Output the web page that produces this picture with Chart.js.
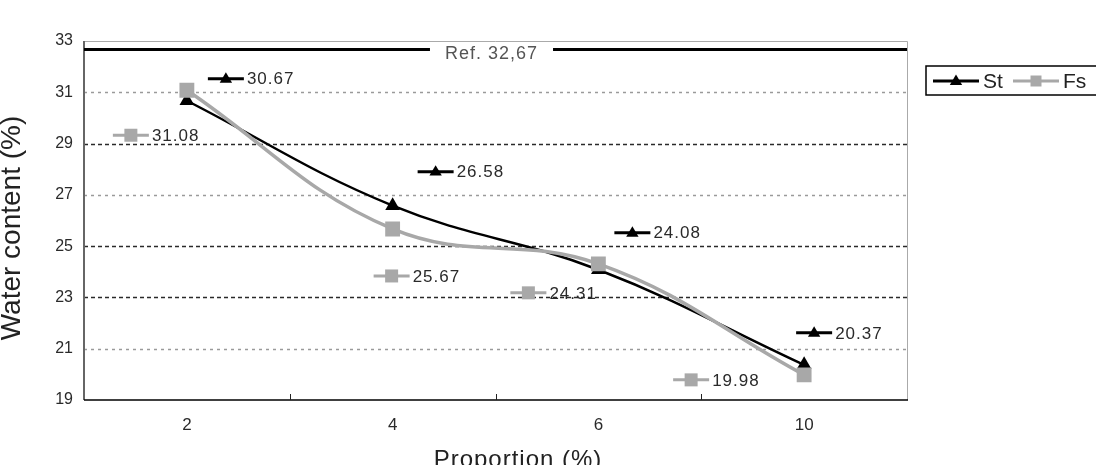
<!DOCTYPE html>
<html>
<head>
<meta charset="utf-8">
<title>Water content</title>
<script src="https://cdn.jsdelivr.net/npm/chart.js@4/dist/chart.umd.min.js"></script>
<style>
    html, body { margin: 0; padding: 0; background: #fff; }
    #wrap { width: 1096px; height: 465px; }
</style>
</head>
<body>
<div id="wrap"><canvas id="waterChart" width="1096" height="465"></canvas></div>
<script>
// Chart data
const categories = ['2', '4', '6', '10'];
const stValues = [30.67, 26.58, 24.08, 20.37];
const fsValues = [31.08, 25.67, 24.31, 19.98];
const yTicks = [19, 21, 23, 25, 27, 29, 31, 33];
const refValue = 32.67;
const refText = 'Ref. 32,67';
const seriesNames = ['St', 'Fs'];

// Callout offsets from each point (px) and grid line styling
const stLabelOffsets = [[39, -22], [43, -34], [34, -37], [10, -32]];
const fsLabelOffsets = [[-56, 45], [-1, 47], [-70, 29], [-113, 5]];
const darkGridTicks = [23, 25, 29];

const FONT = "'Liberation Sans', Arial, sans-serif";
const ST_COLOR = '#000000';
const FS_COLOR = '#a8a8a8';

function drawMarker(ctx, style, x, y, r, color) {
    ctx.save();
    ctx.fillStyle = color;
    ctx.beginPath();
    if (style === 'triangle') {
        ctx.moveTo(x, y - r);
        ctx.lineTo(x + r * 0.95, y + r * 0.6);
        ctx.lineTo(x - r * 0.95, y + r * 0.6);
    } else {
        ctx.rect(x - r, y - r, 2 * r, 2 * r);
    }
    ctx.closePath();
    ctx.fill();
    ctx.restore();
}

// small "line + marker" swatch, used by the callouts and the legend
function drawSwatch(ctx, style, color, cx, cy, half, r) {
    ctx.save();
    ctx.strokeStyle = color;
    ctx.lineWidth = 3;
    ctx.beginPath();
    ctx.moveTo(cx - half, cy);
    ctx.lineTo(cx + half, cy);
    ctx.stroke();
    ctx.restore();
    drawMarker(ctx, style, cx, cy, r, color);
}

const decorPlugin = {
    id: 'decor',
    beforeDatasetsDraw(chart) {
        const ctx = chart.ctx;
        const { left, right, top, bottom } = chart.chartArea;
        const y = chart.scales.y;
        const x = chart.scales.x;

        // horizontal grid lines
        yTicks.forEach(v => {
            if (v === y.min || v === y.max) return;
            const py = Math.round(y.getPixelForValue(v)) + 0.5;
            const dark = darkGridTicks.includes(v);
            ctx.save();
            ctx.strokeStyle = dark ? '#2a2a2a' : '#9a9a9a';
            ctx.lineWidth = dark ? 1.3 : 1.6;
            ctx.setLineDash(dark ? [4, 3] : [3, 4]);
            ctx.beginPath();
            ctx.moveTo(left, py);
            ctx.lineTo(right, py);
            ctx.stroke();
            ctx.restore();
        });

        // frame
        ctx.save();
        ctx.strokeStyle = '#aaa';
        ctx.lineWidth = 1;
        ctx.beginPath();
        ctx.moveTo(left, top + 0.5);
        ctx.lineTo(right + 0.5, top + 0.5);
        ctx.lineTo(right + 0.5, bottom);
        ctx.stroke();
        ctx.strokeStyle = '#666';
        ctx.lineWidth = 2;
        ctx.beginPath();
        ctx.moveTo(left, top);
        ctx.lineTo(left, bottom);
        ctx.stroke();
        ctx.strokeStyle = '#000';
        ctx.lineWidth = 1.5;
        ctx.beginPath();
        ctx.moveTo(left, bottom);
        ctx.lineTo(right + 1, bottom);
        ctx.stroke();
        // category boundary ticks, pointing into the plot
        ctx.lineWidth = 1;
        ctx.strokeStyle = '#222';
        for (let i = 0; i < categories.length - 1; i++) {
            const px = Math.round((x.getPixelForValue(i) + x.getPixelForValue(i + 1)) / 2) + 0.5;
            ctx.beginPath();
            ctx.moveTo(px, bottom);
            ctx.lineTo(px, bottom - 6);
            ctx.stroke();
        }
        ctx.restore();

        // reference line with its label in a gap
        const ry = y.getPixelForValue(refValue);
        ctx.save();
        ctx.font = '18px ' + FONT;
        ctx.letterSpacing = '1px';
        const tw = ctx.measureText(refText).width;
        const cx = (left + right) / 2 - 4;
        const gap = tw / 2 + 15;
        ctx.strokeStyle = '#000';
        ctx.lineWidth = 3;
        ctx.beginPath();
        ctx.moveTo(left, ry);
        ctx.lineTo(cx - gap, ry);
        ctx.moveTo(cx + gap, ry);
        ctx.lineTo(right, ry);
        ctx.stroke();
        ctx.fillStyle = '#555';
        ctx.textAlign = 'center';
        ctx.textBaseline = 'middle';
        ctx.fillText(refText, cx, ry + 5);
        ctx.restore();
    },
    afterDatasetsDraw(chart) {
        const ctx = chart.ctx;
        const sets = [
            { meta: chart.getDatasetMeta(0), offs: stLabelOffsets, vals: stValues, style: 'triangle', color: ST_COLOR },
            { meta: chart.getDatasetMeta(1), offs: fsLabelOffsets, vals: fsValues, style: 'rect', color: FS_COLOR }
        ];

        // value callouts
        sets.forEach(s => {
            s.meta.data.forEach((pt, i) => {
                const cx = pt.x + s.offs[i][0];
                const cy = pt.y + s.offs[i][1];
                drawSwatch(ctx, s.style, s.color, cx, cy, 18, 6.5);
                ctx.save();
                ctx.font = '17px ' + FONT;
                ctx.letterSpacing = '1px';
                ctx.fillStyle = '#2a2a2a';
                ctx.textAlign = 'left';
                ctx.textBaseline = 'middle';
                ctx.fillText(s.vals[i].toFixed(2), cx + 21, cy + 1);
                ctx.restore();
            });
        });

        // legend box
        ctx.save();
        ctx.strokeStyle = '#000';
        ctx.lineWidth = 1.5;
        ctx.strokeRect(926, 66, 180, 29);
        ctx.restore();
        drawSwatch(ctx, 'triangle', ST_COLOR, 956, 81, 23, 6.5);
        drawSwatch(ctx, 'rect', FS_COLOR, 1036, 81, 23, 5.5);
        ctx.save();
        ctx.font = '21px ' + FONT;
        ctx.fillStyle = '#222';
        ctx.textBaseline = 'middle';
        ctx.fillText(seriesNames[0], 983, 82);
        ctx.fillText(seriesNames[1], 1063, 82);
        ctx.restore();

        // axis titles
        ctx.save();
        ctx.fillStyle = '#222';
        ctx.font = '24px ' + FONT;
        ctx.letterSpacing = '1px';
        ctx.textAlign = 'center';
        ctx.textBaseline = 'alphabetic';
        ctx.fillText('Proportion (%)', 518, 467);
        ctx.translate(20, 228);
        ctx.rotate(-Math.PI / 2);
        ctx.font = '28px ' + FONT;
        ctx.letterSpacing = '0px';
        ctx.fillText('Water content (%)', 0, 0);
        ctx.restore();
    }
};

const WaterChart = {
    chart: null,

    init() {
        const canvas = document.getElementById('waterChart');
        Chart.defaults.font.family = FONT;

        this.chart = new Chart(canvas, {
            type: 'line',
            data: {
                labels: categories,
                datasets: [
                    {
                        label: seriesNames[0],
                        data: stValues,
                        borderColor: ST_COLOR,
                        backgroundColor: ST_COLOR,
                        borderWidth: 2.5,
                        tension: 0.4,
                        pointStyle: 'triangle',
                        pointRadius: 8.5,
                        pointBorderWidth: 0,
                        order: 1
                    },
                    {
                        label: seriesNames[1],
                        data: fsValues,
                        borderColor: FS_COLOR,
                        backgroundColor: FS_COLOR,
                        borderWidth: 3.5,
                        tension: 0.4,
                        pointStyle: 'rect',
                        pointRadius: 10.5,
                        pointBorderWidth: 0,
                        order: 0
                    }
                ]
            },
            options: {
                responsive: false,
                animation: false,
                layout: { padding: { top: 41, right: 189, left: 0, bottom: 0 } },
                plugins: { legend: { display: false }, tooltip: { enabled: false } },
                scales: {
                    x: {
                        offset: true,
                        grid: { display: false, drawTicks: false },
                        border: { display: false },
                        ticks: { color: '#2a2a2a', font: { size: 17 }, padding: 15 },
                        afterFit(scale) { scale.height = 65; }
                    },
                    y: {
                        min: yTicks[0],
                        max: yTicks[yTicks.length - 1],
                        afterBuildTicks(scale) { scale.ticks = yTicks.map(v => ({ value: v })); },
                        grid: { display: false, drawTicks: false },
                        border: { display: false },
                        ticks: { color: '#2a2a2a', font: { size: 16 }, padding: 11 },
                        afterFit(scale) { scale.width = 84; }
                    }
                }
            },
            plugins: [decorPlugin]
        });
    }
};

WaterChart.init();
</script>
</body>
</html>
